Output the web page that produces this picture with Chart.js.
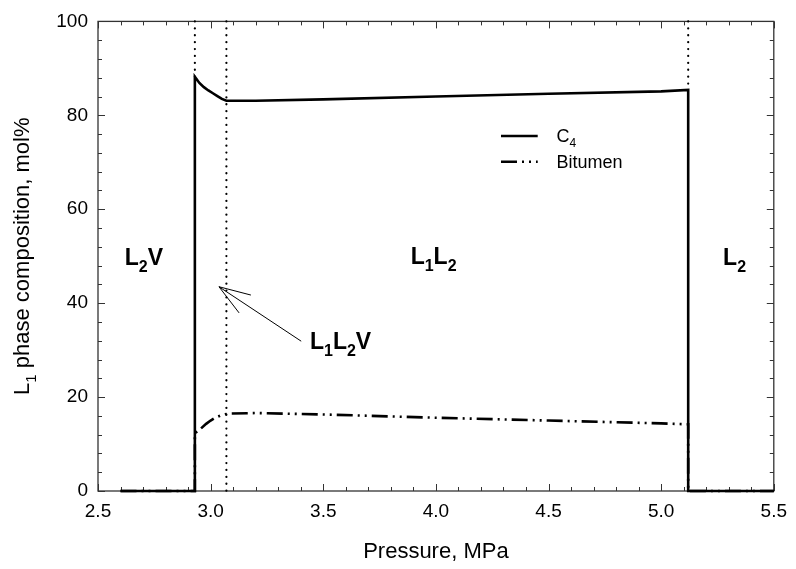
<!DOCTYPE html>
<html>
<head>
<meta charset="utf-8">
<script src="https://cdn.jsdelivr.net/npm/chart.js@4.4.1/dist/chart.umd.min.js"></script>
<style>
  html,body{margin:0;padding:0;background:#fff;}
  #c{display:block;}
</style>
</head>
<body>
<canvas id="c" width="796" height="569"></canvas>
<script>
// ---------------- data ----------------
const xTickLabels = ['2.5','3.0','3.5','4.0','4.5','5.0','5.5'];
const yTickLabels = ['0','20','40','60','80','100'];

const c4Pressure = [2.60, 2.93, 2.93, 2.95, 2.97, 2.99, 3.01, 3.03, 3.05, 3.07, 3.20, 3.50, 4.00, 4.50, 5.00, 5.12, 5.12, 5.50];
const c4Comp     = [0,    0,    88.2, 86.9, 86.0, 85.3, 84.7, 84.1, 83.5, 83.1, 83.1, 83.4, 84.0, 84.6, 85.1, 85.4, 0,    0];

const bitPressure = [2.60, 2.93, 2.93, 2.95, 2.98, 3.00, 3.02, 3.05, 3.08, 3.20, 3.50, 4.00, 4.50, 5.00, 5.12, 5.12, 5.50];
const bitComp     = [0,    0,    12.3, 13.0, 14.3, 15.0, 15.6, 16.2, 16.5, 16.6, 16.3, 15.6, 15.0, 14.4, 14.2, 0,    0];

// phase boundaries (dotted lines): pressure, lower end of dotted segment
const boundaryPressure = [2.93, 3.07, 5.12];
const boundaryLow      = [88.2, 0,    85.4];

// region labels: [x, y, parts]
const regionLabels = [
  {x: 2.619, y: 48.1, parts: [['L',0],['2',1],['V',0]]},
  {x: 3.888, y: 48.3, parts: [['L',0],['1',1],['L',0],['2',1]]},
  {x: 5.275, y: 48.2, parts: [['L',0],['2',1]]},
  {x: 3.441, y: 30.3, parts: [['L',0],['1',1],['L',0],['2',1],['V',0]]}
];
// arrow tail -> tip
const arrowTail = [3.402, 31.9];
const arrowTip  = [3.037, 43.5];

// legend
const legendItems = [
  {parts: [['C',0],['4',1]], dash: [], y: 75.6},
  {parts: [['Bitumen',0]], dash: [16,5,2,5,2,5], y: 70.1}
];
const legendX = [4.289, 4.452, 4.535];

// ---------------- helpers ----------------
const FONT = '"Liberation Sans", Arial, sans-serif';
function toXY(xs, ys){ return xs.map((v,i)=>({x:v, y:ys[i]})); }

function richWidth(ctx, parts, size, bold){
  let w = 0;
  for (const [t, sub] of parts){
    ctx.font = (bold?'bold ':'') + (sub? Math.round(size*0.68): size) + 'px ' + FONT;
    w += ctx.measureText(t).width;
  }
  return w;
}
function drawRich(ctx, x, y, parts, size, bold){
  let cx = x;
  for (const [t, sub] of parts){
    const s = sub ? Math.round(size*0.68) : size;
    ctx.font = (bold?'bold ':'') + s + 'px ' + FONT;
    ctx.fillText(t, cx, sub ? y + size*0.3 : y);
    cx += ctx.measureText(t).width;
  }
}

const boundaryDatasets = boundaryPressure.map((p,i)=>({
  data: [{x:p, y:100}, {x:p, y:boundaryLow[i]}],
  borderColor: '#000', borderWidth: 2.2, borderDash: [0.1, 6.8], borderCapStyle: 'round',
  pointRadius: 0, fill: false, tension: 0, clip: 4
}));

const overlay = {
  id: 'overlay',
  beforeDatasetsDraw(chart){
    const {ctx, chartArea:a, scales:{x, y}} = chart;
    ctx.save();
    ctx.strokeStyle = '#333';
    ctx.lineWidth = 1.3;
    ctx.strokeRect(a.left, a.top, a.right - a.left, a.bottom - a.top);
    ctx.lineWidth = 1;
    // x ticks (every 0.1, major every 0.5)
    for (let k = 0; k <= 30; k++){
      const v = 2.5 + k*0.1;
      const px = Math.round(x.getPixelForValue(v)) + 0.5;
      const len = (k % 5 === 0) ? 7 : 4;
      ctx.beginPath();
      ctx.moveTo(px, a.bottom); ctx.lineTo(px, a.bottom - len);
      ctx.moveTo(px, a.top); ctx.lineTo(px, a.top + len);
      ctx.stroke();
    }
    // y ticks (every 4, major every 20)
    for (let k = 0; k <= 25; k++){
      const v = k*4;
      const py = Math.round(y.getPixelForValue(v)) + 0.5;
      const len = (k % 5 === 0) ? 7 : 4;
      ctx.beginPath();
      ctx.moveTo(a.left, py); ctx.lineTo(a.left + len, py);
      ctx.moveTo(a.right, py); ctx.lineTo(a.right - len, py);
      ctx.stroke();
    }
    ctx.restore();
  },
  afterDraw(chart){
    const {ctx, chartArea:a, scales:{x, y}} = chart;
    ctx.save();
    ctx.fillStyle = '#000';
    ctx.textBaseline = 'alphabetic';
    ctx.textAlign = 'left';
    // region labels
    for (const L of regionLabels){
      drawRich(ctx, x.getPixelForValue(L.x), y.getPixelForValue(L.y), L.parts, 23, true);
    }
    // arrow
    const tx = x.getPixelForValue(arrowTip[0]), ty = y.getPixelForValue(arrowTip[1]);
    const sx = x.getPixelForValue(arrowTail[0]), sy = y.getPixelForValue(arrowTail[1]);
    const ang = Math.atan2(sy - ty, sx - tx);
    ctx.strokeStyle = '#000'; ctx.lineWidth = 1;
    ctx.beginPath();
    ctx.moveTo(sx, sy); ctx.lineTo(tx, ty);
    const hl = 33, spread = 0.33;
    ctx.moveTo(tx + hl*Math.cos(ang - spread), ty + hl*Math.sin(ang - spread));
    ctx.lineTo(tx, ty);
    ctx.lineTo(tx + hl*Math.cos(ang + spread), ty + hl*Math.sin(ang + spread));
    ctx.stroke();
    // legend
    for (const it of legendItems){
      const py = y.getPixelForValue(it.y);
      ctx.beginPath();
      ctx.setLineDash(it.dash);
      ctx.lineWidth = 2.6; ctx.lineCap = 'butt';
      ctx.moveTo(x.getPixelForValue(legendX[0]), py);
      ctx.lineTo(x.getPixelForValue(legendX[1]), py);
      ctx.stroke();
      ctx.setLineDash([]);
      drawRich(ctx, x.getPixelForValue(legendX[2]), py + 6, it.parts, 18, false);
    }
    // axis titles
    const xt = [['Pressure, MPa',0]];
    const w1 = richWidth(ctx, xt, 22, false);
    drawRich(ctx, (a.left + a.right)/2 - w1/2, 558, xt, 22, false);
    const yt = [['L',0],['1',1],[' phase composition, mol%',0]];
    const w2 = richWidth(ctx, yt, 22, false);
    ctx.translate(29, (a.top + a.bottom)/2);
    ctx.rotate(-Math.PI/2);
    drawRich(ctx, -w2/2, 0, yt, 22, false);
    ctx.restore();
  }
};

new Chart(document.getElementById('c'), {
  type: 'line',
  data: {
    datasets: [
      {label: 'C4', data: toXY(c4Pressure, c4Comp), borderColor: '#000', borderWidth: 2.6,
       pointRadius: 0, fill: false, tension: 0, borderJoinStyle: 'miter', clip: 4},
      {label: 'Bitumen', data: toXY(bitPressure, bitComp), borderColor: '#000', borderWidth: 2.6,
       borderDash: [16,5,2,5,2,5], pointRadius: 0, fill: false, tension: 0, clip: 4},
      ...boundaryDatasets
    ]
  },
  options: {
    responsive: false,
    animation: false,
    events: [],
    layout: {padding: {top: 15, right: 17, left: 0, bottom: 0}},
    plugins: {legend: {display: false}, tooltip: {enabled: false}},
    scales: {
      x: {
        type: 'linear', min: 2.5, max: 5.5,
        grid: {display: false, drawTicks: false},
        border: {display: false},
        ticks: {
          stepSize: 0.5, autoSkip: false, maxRotation: 0, padding: 9,
          color: '#000', font: {family: FONT, size: 19},
          callback: (v) => { const s = v.toFixed(1); return xTickLabels.includes(s) ? s : ''; }
        },
        afterFit(s){ s.height = 78; }
      },
      y: {
        type: 'linear', min: 0, max: 100,
        grid: {display: false, drawTicks: false},
        border: {display: false},
        ticks: {
          stepSize: 20, autoSkip: false, padding: 10,
          color: '#000', font: {family: FONT, size: 19},
          callback: (v) => { const s = String(v); return yTickLabels.includes(s) ? s : ''; }
        },
        afterFit(s){ s.width = 98; }
      }
    }
  },
  plugins: [overlay]
});
</script>
</body>
</html>
